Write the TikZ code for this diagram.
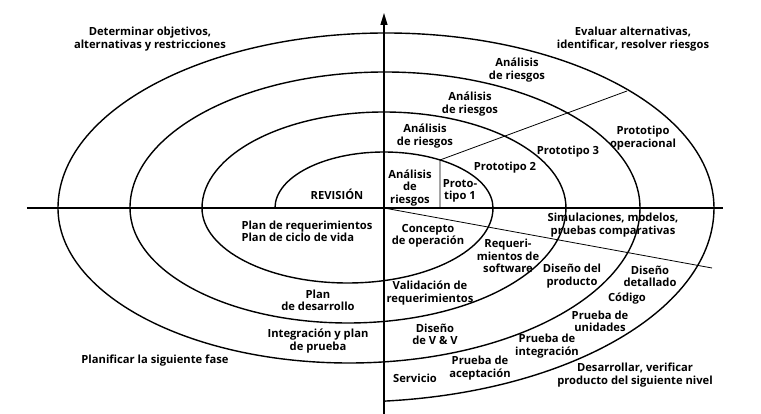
\documentclass[tikz,border=0pt]{standalone}
\usepackage{fontspec}
\setmainfont{Open Sans}
\usetikzlibrary{arrows.meta}
\begin{document}
\begin{tikzpicture}[x=1pt,y=1pt]
			\tikzstyle{every node}+=[inner sep=0pt]
			\tikzstyle{lbl}=[align=center, font=\fontsize{11.2}{12.3}\selectfont\bfseries]
			\tikzstyle{spiral}=[black, line width=1.4pt]
			\tikzstyle{ray}=[black, line width=0.8pt]
			\useasboundingbox (-384,-206) rectangle (377,208);
			\coordinate (o) at (0,0);
			% ejes
			\draw [black, line width=1.2pt] (-357,0) -- (339,0);
			\draw [black, line width=1.2pt, -{Triangle[length=12pt,width=7pt]}] (0,-208) -- (0,195);
			% espiral
			\draw [spiral] (-109,0) arc [start angle=180, end angle=0, x radius=109, y radius=56]
				arc [start angle=0, end angle=-180, x radius=145.5, y radius=75]
				arc [start angle=180, end angle=0, x radius=182, y radius=96]
				arc [start angle=0, end angle=-180, x radius=218, y radius=115]
				arc [start angle=180, end angle=0, x radius=255, y radius=136]
				arc [start angle=0, end angle=-180, x radius=291, y radius=155]
				arc [start angle=180, end angle=0, x radius=328, y radius=175]
				arc [start angle=0, end angle=-84.6, x radius=364, y radius=194];
			% radios
			\coordinate (p1) at (56,0);
			\coordinate (p2) at (56,48);
			\coordinate (p3) at (243,117);
			\coordinate (p4) at (328,-60);
			\draw [ray] (p1) -- (p2) -- (p3);
			\draw [ray] (o) -- (p4);
			% cuadrantes
			\node [lbl] (determinar) at (-234,169) {Determinar objetivos,\\alternativas y restricciones};
			\node [lbl] (evaluar) at (249,169) {Evaluar alternativas,\\identificar, resolver riesgos};
			\node [lbl] (planificar) at (-229,-153) {Planificar la siguiente fase};
			\node [lbl] (desarrollar) at (251,-167) {Desarrollar, verificar\\producto del siguiente nivel};
			% analisis de riesgos
			\node [lbl] (ar4) at (133,138) {Análisis\\de riesgos};
			\node [lbl] (ar3) at (86,104) {Análisis\\de riesgos};
			\node [lbl] (ar2) at (41,72) {Análisis\\de riesgos};
			\node [lbl] (ar1) at (26,20) {Análisis\\de\\riesgos};
			% prototipos
			\node [lbl] (proto1) at (76,17) {Proto-\\tipo 1};
			\node [lbl] (proto2) at (121,40) {Prototipo 2};
			\node [lbl] (proto3) at (184,56) {Prototipo 3};
			\node [lbl] (proto4) at (259,70) {Prototipo\\operacional};
			% planes
			\node [lbl] (revision) at (-47,14) {REVISIÓN};
			\node [lbl, align=left] (planreq) at (-77,-23) {Plan de requerimientos\\Plan de ciclo de vida};
			\node [lbl] (plandes) at (-66,-92) {Plan\\de desarrollo};
			\node [lbl] (integ) at (-66,-133) {Integración y plan\\de prueba};
			% desarrollo
			\node [lbl] (concepto) at (44,-28) {Concepto\\de operación};
			\node [lbl] (reqsw) at (124,-48) {Requeri-\\mientos de\\software};
			\node [lbl] (simul) at (229,-17) {Simulaciones, modelos,\\pruebas comparativas};
			\node [lbl] (disprod) at (188,-68) {Diseño del\\producto};
			\node [lbl] (disdet) at (266,-68) {Diseño\\detallado};
			\node [lbl] (codigo) at (243,-91) {Código};
			\node [lbl] (unidades) at (216,-113) {Prueba de\\unidades};
			\node [lbl] (valid) at (46,-85) {Validación de\\requerimientos};
			\node [lbl] (disvv) at (51,-126) {Diseño\\de V \& V};
			\node [lbl] (pinteg) at (163,-138) {Prueba de\\integración};
			\node [lbl] (acept) at (96,-160) {Prueba de\\aceptación};
			\node [lbl] (servicio) at (31,-170) {Servicio};
		\end{tikzpicture}
\end{document}
